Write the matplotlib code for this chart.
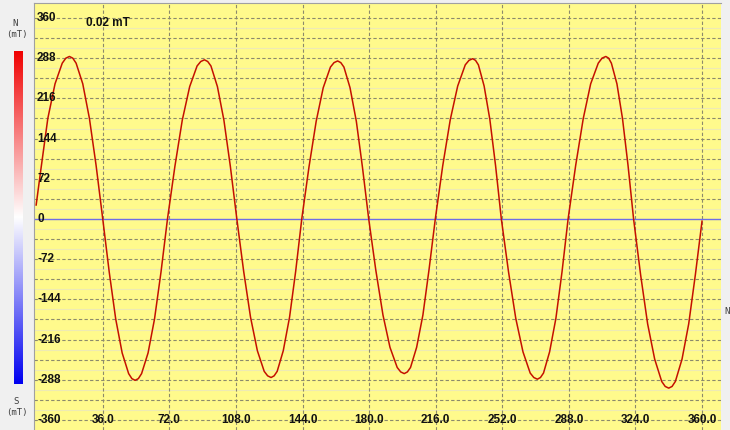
import numpy as np
import matplotlib
matplotlib.use("Agg")
from matplotlib import pyplot as plt
from matplotlib.colors import LinearSegmentedColormap
import matplotlib.transforms as mtransforms

# angle (deg) and field values
angle = [0, 2.4, 6.3, 10.2, 14.1, 16.05, 18,
         19.8, 21.6, 25.2, 28.8, 32.4, 36,
         39.5, 43, 46.5, 50, 51.75, 53.5,
         55.25, 57, 60.5, 64, 67.5, 71,
         75, 79, 83, 87, 89, 91,
         92.75, 94.5, 98, 101.5, 105, 108.5,
         112.2, 115.9, 119.6, 123.3, 125.15, 127,
         128.65, 130.3, 133.6, 137, 140.3, 143.6,
         147.5, 151.4, 155.2, 159.1, 161.05, 163,
         164.7, 166.4, 169.7, 173.1, 176.4, 179.8,
         183.6, 187.5, 191.3, 195.2, 197.1, 199,
         200.7, 202.4, 205.7, 209.1, 212.4, 215.8,
         219.8, 223.9, 227.9, 232, 234, 236,
         237.55, 239.1, 242.2, 245.3, 248.4, 251.5,
         255.4, 259.3, 263.2, 267.1, 269.05, 271,
         272.65, 274.3, 277.6, 281, 284.3, 287.6,
         291.7, 295.8, 299.8, 303.9, 305.95, 308,
         309.5, 311, 314, 317, 320, 323,
         326.8, 330.6, 334.4, 338.2, 340.1, 342,
         343.8, 345.6, 349.2, 352.8, 356.4, 360]
field = [25, 85, 180, 242, 279, 288, 291,
         288, 279, 242, 180, 96, 0,
         -95, -179, -240, -277, -286, -289,
         -286, -277, -240, -179, -95, 0,
         94, 177, 237, 274, 282, 285,
         282, 274, 237, 177, 94, 0,
         -94, -176, -236, -273, -281, -284,
         -281, -273, -236, -176, -94, 0,
         93, 175, 235, 272, 280, 283,
         280, 272, 235, 175, 93, 0,
         -91, -172, -230, -266, -274, -277,
         -274, -266, -230, -172, -91, 0,
         95, 178, 238, 276, 284, 287,
         284, 276, 238, 178, 95, 0,
         -95, -178, -238, -276, -284, -287,
         -284, -276, -238, -178, -95, 0,
         96, 180, 242, 279, 288, 291,
         288, 279, 242, 180, 96, 0,
         -100, -188, -251, -291, -300, -303,
         -300, -291, -251, -188, -100, -4]

y_ticks = [-360, -288, -216, -144, -72, 0, 72, 144, 216, 288, 360]
x_ticks = [36, 72, 108, 144, 180, 216, 252, 288, 324, 360]
scale_label = "0.02 mT"

fig = plt.figure(figsize=(7.3, 4.3), dpi=100, facecolor="#f0f0f0")
ax = fig.add_axes([0.047, 0.0, 0.940, 0.992])
ax.set_facecolor("#fffa8c")
ax.set_xlim(-1, 370)
ax.set_ylim(-378, 386)

# light minor lines, dashed major lines
for v in np.arange(-342, 360, 36):
    ax.axhline(v, color="#eeeab4", lw=0.8, zorder=1)
for v in np.arange(-360, 361, 36):
    if v != 0:
        ax.axhline(v, color="#8c8a6c", lw=0.8, ls=(0, (3, 2)), zorder=1)
for v in x_ticks:
    ax.axvline(v, color="#8c8a6c", lw=0.8, ls=(0, (3, 2)), zorder=1)
ax.axhline(0, color="#6e6ee6", lw=1.0, zorder=2)

ax.plot(angle, field, color="#c41000", lw=1.1, zorder=3)

ax.set_xticks([])
ax.set_yticks([])
for s in ["bottom", "right"]:
    ax.spines[s].set_visible(False)
for s in ["left", "top"]:
    ax.spines[s].set_color("#a0a0a0")
    ax.spines[s].set_linewidth(0.8)

lab = dict(fontfamily="Liberation Sans", fontweight="bold", fontsize=8.5,
           color="#111111", zorder=4)
ytrans = mtransforms.blended_transform_factory(ax.transAxes, ax.transData)
for v in y_ticks:
    ax.text(0.004, v, str(v), transform=ytrans, ha="left", va="center", **lab)
for v in x_ticks:
    ax.text(v, -360, "%.1f" % v, ha="center", va="center", clip_on=True, **lab)
ax.text(0.075, 0.955, scale_label, transform=ax.transAxes, ha="left",
        va="center", **lab)

# colour scale on the left
cax = fig.add_axes([0.0185, 0.107, 0.0118, 0.775])
cmap = LinearSegmentedColormap.from_list("ns", ["#0000f0", "#ffffff", "#f00000"])
grad = np.linspace(0, 1, 256).reshape(-1, 1)
cax.imshow(grad, aspect="auto", cmap=cmap, origin="lower")
cax.set_axis_off()

small = dict(fontfamily="DejaVu Sans Mono", fontsize=6.5, color="#404040",
             ha="center", va="center")
fig.text(15 / 730, 1 - 24 / 430, "N", **small)
fig.text(17 / 730, 1 - 34 / 430, "(mT)", **small)
fig.text(16 / 730, 1 - 402 / 430, "S", **small)
fig.text(17 / 730, 1 - 413 / 430, "(mT)", **small)
fig.text(727 / 730, 1 - 312 / 430, "N", **small)

fig.savefig("out.png", dpi=100, facecolor=fig.get_facecolor())
